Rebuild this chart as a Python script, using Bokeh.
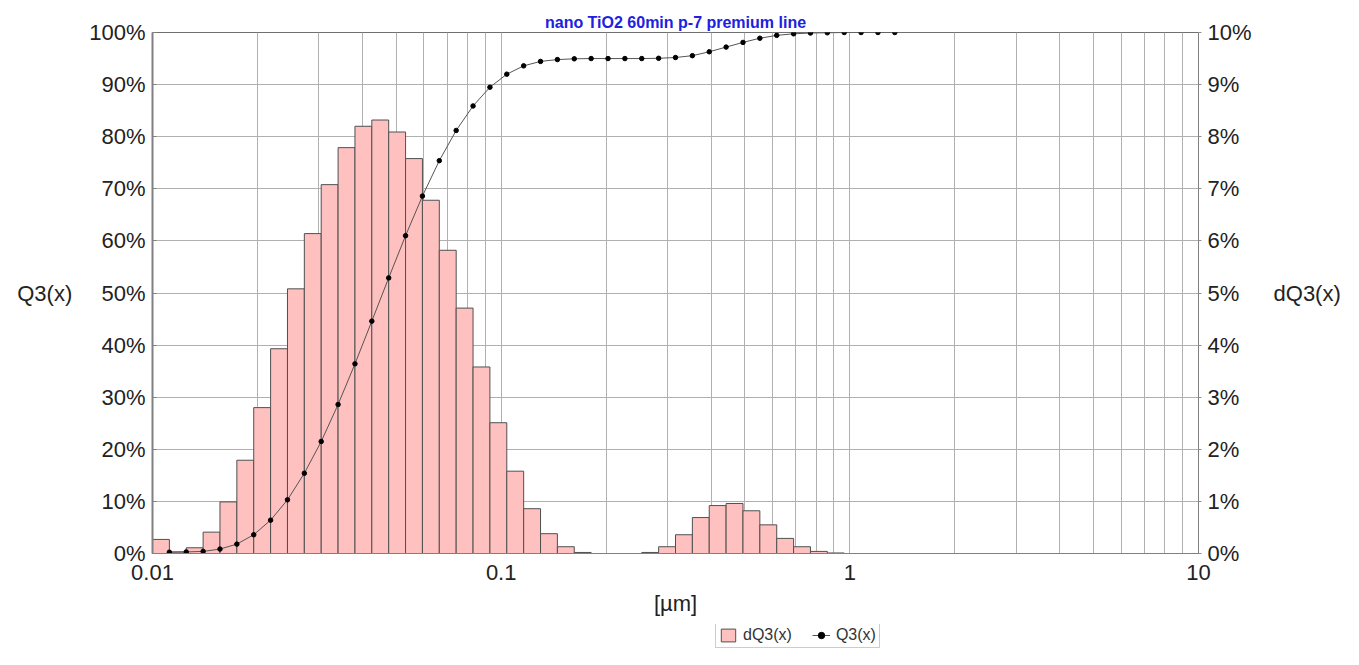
from bokeh.plotting import figure
from bokeh.layouts import column
from bokeh.models import (Range1d, LinearAxis, FixedTicker, PrintfTickFormatter,
                          CustomJSTickFormatter, Legend, LegendItem, ColumnDataSource, Title)
from bokeh.embed import file_html
from bokeh.resources import INLINE

# ---------------- data ----------------
title_text = "nano TiO2 60min p-7 premium line"

# class boundaries [µm] (62 logarithmic classes from 0.01 to 10 µm)
bin_edges = [0.01, 0.011179, 0.012496, 0.013969, 0.015615, 0.017456, 0.019513, 0.021813,
             0.024384, 0.027258, 0.030470, 0.034061, 0.038076, 0.042563, 0.047580, 0.053187,
             0.059456, 0.066463, 0.074297, 0.083053, 0.092841, 0.10378, 0.11602, 0.12969,
             0.14497, 0.16206, 0.18116, 0.20251, 0.22638, 0.25306, 0.28289, 0.31623,
             0.35350, 0.39516, 0.44173, 0.49380, 0.55200, 0.61706, 0.68978, 0.77108,
             0.86195, 0.96354, 1.0771, 1.2040, 1.3460, 1.5046, 1.6819, 1.8802,
             2.1017, 2.3495, 2.6264, 2.9359, 3.2819, 3.6687, 4.1011, 4.5844,
             5.1247, 5.7286, 6.4038, 7.1585, 8.0022, 8.9454, 10.0]

# dQ3(x) per class [%]
dq3 = [0.27, 0.03, 0.11, 0.41, 0.99, 1.79, 2.80, 3.93, 5.08, 6.14,
       7.08, 7.79, 8.20, 8.32, 8.09, 7.58, 6.78, 5.82, 4.71, 3.58,
       2.51, 1.58, 0.86, 0.38, 0.13, 0.02, 0.0, 0.0, 0.0, 0.02,
       0.13, 0.36, 0.69, 0.92, 0.96, 0.82, 0.55, 0.29, 0.13, 0.04,
       0.01, 0.0, 0.0, 0.0, 0.0, 0.0, 0.0, 0.0, 0.0, 0.0,
       0.0, 0.0, 0.0, 0.0, 0.0, 0.0, 0.0, 0.0, 0.0, 0.0,
       0.0, 0.0]

# Q3(x) cumulative [%] at upper class boundaries 1..44
q3 = [0.25, 0.3, 0.4, 0.85, 1.8, 3.6, 6.4, 10.3, 15.4, 21.5,
      28.6, 36.4, 44.6, 52.9, 61.0, 68.6, 75.4, 81.2, 85.9, 89.5,
      92.0, 93.6, 94.45, 94.8, 94.95, 95.0, 95.0, 95.0, 95.0, 95.05,
      95.2, 95.55, 96.3, 97.2, 98.1, 98.9, 99.45, 99.75, 99.9, 99.95,
      100.0, 100.0, 100.0, 100.0]

x_major_ticks = [0.01, 0.1, 1, 10]
x_grid_ticks = [m * d for d in (0.01, 0.1, 1) for m in range(1, 10)] + [10]
left_ticks = [0, 10, 20, 30, 40, 50, 60, 70, 80, 90, 100]
right_ticks = [0, 1, 2, 3, 4, 5, 6, 7, 8, 9, 10]
series_names = ["dQ3(x)", "Q3(x)"]

# ---------------- styles ----------------
FONT = "Liberation Sans"
BAR_FILL = "#ffc0c0"
BAR_LINE = "#505050"
Q_LINE = "#555555"

bars = ColumnDataSource(dict(left=bin_edges[:-1], right=bin_edges[1:], top=dq3,
                             bottom=[0] * len(dq3)))
qsrc = ColumnDataSource(dict(x=bin_edges[1:1 + len(q3)], y=q3))

# ---------------- main figure ----------------
p = figure(width=1343, height=624, x_axis_type="log", x_range=Range1d(0.01, 10),
           y_range=Range1d(0, 100), output_backend="svg", toolbar_location=None,
           min_border_left=152, min_border_right=144, min_border_top=32,
           min_border_bottom=71)
p.extra_y_ranges = {"d": Range1d(0, 10)}
p.outline_line_color = "#707070"
p.background_fill_color = "white"
p.border_fill_color = "white"

p.title = Title(text=title_text, align="center", text_font=FONT, text_font_size="16px",
                text_font_style="bold", text_color="#2020e0", standoff=3, offset=0)

p.quad(left="left", right="right", top="top", bottom="bottom", source=bars,
       y_range_name="d", fill_color=BAR_FILL, line_color=BAR_LINE, line_width=1)
p.line("x", "y", source=qsrc, line_color=Q_LINE, line_width=1)
p.scatter("x", "y", source=qsrc, size=4.5, fill_color="black", line_color="black")

# x axis
xa = p.xaxis[0]
xa.ticker = FixedTicker(ticks=x_major_ticks, minor_ticks=[])
xa.formatter = CustomJSTickFormatter(code="return tick.toString();")
xa.axis_label = "[µm]"
xa.axis_label_text_font = FONT
xa.axis_label_text_font_size = "22px"
xa.axis_label_text_font_style = "normal"
xa.axis_label_text_color = "#222222"
xa.axis_label_standoff = 8
xa.major_label_text_font = FONT
xa.major_label_text_font_size = "22px"
xa.major_label_text_color = "#222222"
xa.major_label_standoff = 5
xa.major_tick_line_color = None
xa.minor_tick_line_color = None
xa.axis_line_color = "#808080"

# left axis
ya = p.yaxis[0]
ya.ticker = FixedTicker(ticks=left_ticks, minor_ticks=[])
ya.formatter = PrintfTickFormatter(format="%d%%")
ya.axis_label = "Q3(x)"
ya.axis_label_orientation = "horizontal"
ya.axis_label_text_font = FONT
ya.axis_label_text_font_size = "22px"
ya.axis_label_text_font_style = "normal"
ya.axis_label_text_color = "#222222"
ya.axis_label_standoff = 14
ya.major_label_text_font = FONT
ya.major_label_text_font_size = "22px"
ya.major_label_text_color = "#222222"
ya.major_label_standoff = 7
ya.major_tick_in = 4
ya.major_tick_out = 0
ya.major_tick_line_color = "#808080"
ya.axis_line_color = "#808080"
ya.axis_line_width = 2

# right axis
ra = LinearAxis(y_range_name="d")
ra.ticker = FixedTicker(ticks=right_ticks, minor_ticks=[])
ra.formatter = PrintfTickFormatter(format="%d%%")
ra.axis_label = "dQ3(x)"
ra.axis_label_orientation = "horizontal"
ra.axis_label_text_font = FONT
ra.axis_label_text_font_size = "22px"
ra.axis_label_text_font_style = "normal"
ra.axis_label_text_color = "#222222"
ra.axis_label_standoff = 19
ra.major_label_text_font = FONT
ra.major_label_text_font_size = "22px"
ra.major_label_text_color = "#222222"
ra.major_label_standoff = 6
ra.major_tick_in = 0
ra.major_tick_out = 3
ra.major_tick_line_color = "#909090"
ra.axis_line_color = "#808080"
p.add_layout(ra, "right")

# grids
p.xgrid.ticker = FixedTicker(ticks=x_grid_ticks)
p.xgrid.grid_line_color = "#b0b0b0"
p.xgrid.grid_line_width = 1
p.ygrid.ticker = FixedTicker(ticks=left_ticks)
p.ygrid.grid_line_color = "#b0b0b0"
p.ygrid.grid_line_width = 1

# ---------------- legend strip (below the chart) ----------------
# same series, drawn in a range where they are out of view: only the legend shows
lf = figure(width=1343, height=25, x_range=Range1d(0, 1), y_range=Range1d(500, 501),
            output_backend="svg", toolbar_location=None, x_axis_location=None,
            y_axis_location=None, min_border=0)
lf.outline_line_color = None
lf.xgrid.visible = False
lf.ygrid.visible = False
k1 = lf.quad(left="left", right="right", top="top", bottom="bottom", source=bars,
             fill_color=BAR_FILL, line_color=BAR_LINE)
k2 = lf.line("x", "y", source=qsrc, line_color=Q_LINE, line_width=1)
k3 = lf.scatter("x", "y", source=qsrc, size=4.5, fill_color="black", line_color="black")

legend = Legend(items=[LegendItem(label=series_names[0], renderers=[k1]),
                       LegendItem(label=series_names[1], renderers=[k2, k3])],
                orientation="horizontal", location=(563, 1),
                label_text_font=FONT, label_text_font_size="16px",
                label_text_color="#333333", glyph_width=18, glyph_height=16,
                label_height=16, label_standoff=6, spacing=20, padding=3, margin=0,
                border_line_color="#999999", border_line_width=1,
                background_fill_color="white", background_fill_alpha=1)
lf.add_layout(legend, "center")

layout = column(p, lf, spacing=0)
open("out.html", "w").write(file_html(layout, INLINE))
